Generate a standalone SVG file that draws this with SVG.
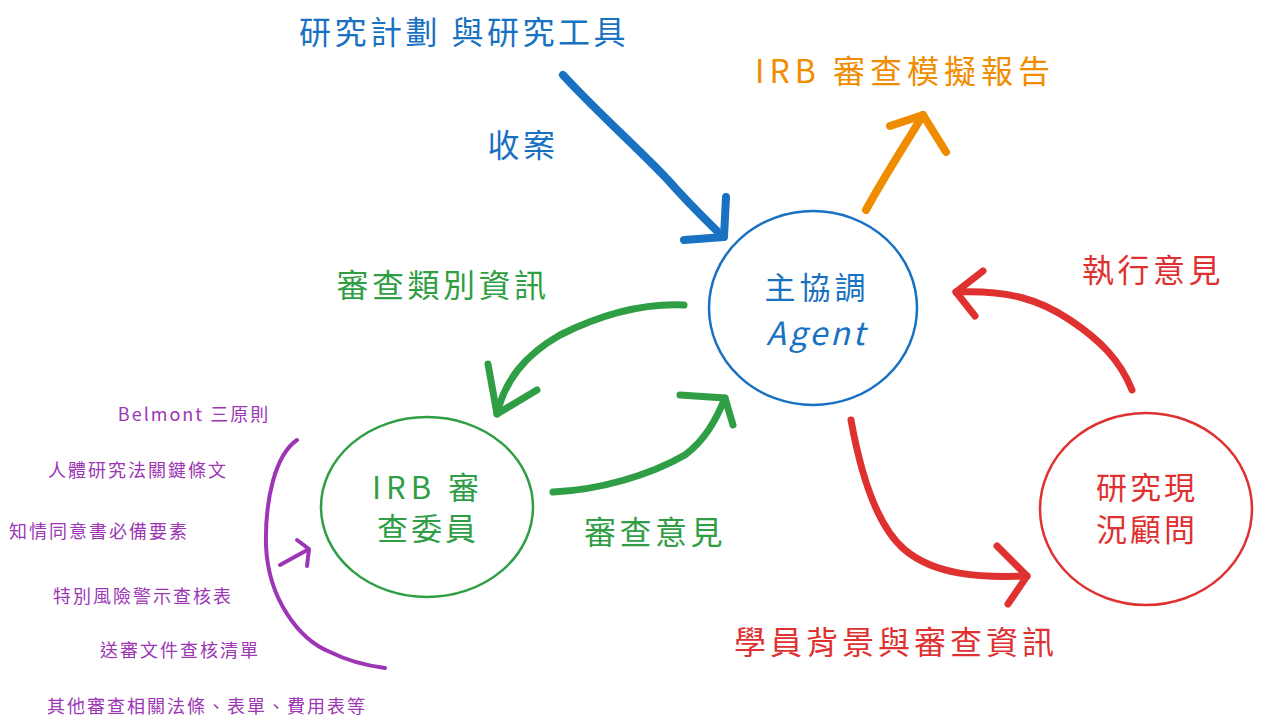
<svg xmlns="http://www.w3.org/2000/svg" width="1263" height="728" viewBox="0 0 1263 728">
<style>
text{font-family:"Noto Sans CJK TC","Noto Sans",sans-serif;text-anchor:middle;dominant-baseline:central}
.node{fill:none;stroke-width:2.5}
.conn{fill:none;stroke-linecap:round;stroke-linejoin:round}
.blue{stroke:#1971c2}.orange{stroke:#f08c00}.green{stroke:#2f9e44}.red{stroke:#e03131}.purple{stroke:#9c36b5}
.tb{fill:#1971c2}.to{fill:#f08c00}.tg{fill:#2f9e44}.tr{fill:#e03131}.tp{fill:#9c36b5}
.big{font-size:31px;letter-spacing:2px}.lbl{font-size:32px;letter-spacing:3.5px}.small{font-size:18px;letter-spacing:2px}
</style>
<rect width="1263" height="728" fill="#ffffff"/>
<g id="connectors">
  <path class="conn blue" stroke-width="8" d="M563,75 C600,115 640,150 668,180 C690,205 708,222 722,236"/>
  <path class="conn blue" stroke-width="8" d="M726,197 L724,237 L684,240"/>
  <path class="conn orange" stroke-width="8" d="M866,210 C885,175 905,145 923,115"/>
  <path class="conn orange" stroke-width="8" d="M890,126 L923,115 L946,152"/>
  <path class="conn green" stroke-width="7" d="M684,305 C640,303 600,315 560,335 C525,355 505,380 497,414"/>
  <path class="conn green" stroke-width="7" d="M488,364 L497,414 L537,390"/>
  <path class="conn green" stroke-width="7" d="M553,492 C600,490 650,475 685,455 C705,440 716,420 725,398"/>
  <path class="conn green" stroke-width="7" d="M680,395 L725,398 L733,425"/>
  <path class="conn red" stroke-width="7" d="M851,420 C860,470 875,525 905,550 C935,575 980,578 1027,576"/>
  <path class="conn red" stroke-width="7" d="M997,546 L1027,576 L1008,604"/>
  <path class="conn red" stroke-width="7" d="M1132,390 C1120,360 1100,340 1070,320 C1040,300 1010,290 956,292"/>
  <path class="conn red" stroke-width="7" d="M983,271 L956,292 L975,316"/>
  <path class="conn purple" stroke-width="4" d="M297,440 C275,455 265,500 266,545 C268,600 300,640 330,652 C350,662 370,666 385,668"/>
  <path class="conn purple" stroke-width="4" d="M280,565 L309,549 M297,540 L309,549 L307,566"/>
</g>
<g id="node-agent">
  <ellipse class="node blue" cx="813" cy="308" rx="104" ry="97"/>
  <text class="tb big" x="817" y="285" style="letter-spacing:4px">主協調</text>
  <text class="tb big" x="817" y="331" font-style="italic" style="font-size:32px;letter-spacing:3px">Agent</text>
</g>
<g id="node-irb">
  <ellipse class="node green" cx="427" cy="507" rx="106" ry="90"/>
  <text class="tg big" x="428" y="485" style="letter-spacing:5px">IRB 審</text>
  <text class="tg big" x="428" y="526" style="letter-spacing:3px">查委員</text>
</g>
<g id="node-advisor">
  <ellipse class="node red" cx="1146" cy="509" rx="106" ry="96"/>
  <text class="tr big" x="1147" y="485" style="letter-spacing:3px">研究現</text>
  <text class="tr big" x="1147" y="527" style="letter-spacing:3px">況顧問</text>
</g>
<g id="labels">
  <text class="tb lbl" x="464" y="30">研究計劃 與研究工具</text>
  <text class="to lbl" x="905" y="69" style="letter-spacing:5px">IRB 審查模擬報告</text>
  <text class="tb lbl" x="523" y="143">收案</text>
  <text class="tg lbl" x="443" y="283">審查類別資訊</text>
  <text class="tr lbl" x="1153" y="268">執行意見</text>
  <text class="tg lbl" x="655" y="530">審查意見</text>
  <text class="tr lbl" x="896" y="640" style="letter-spacing:4px">學員背景與審查資訊</text>
</g>
<g id="list">
  <text class="tp small" x="194" y="413">Belmont 三原則</text>
  <text class="tp small" x="138" y="469">人體研究法關鍵條文</text>
  <text class="tp small" x="99" y="530">知情同意書必備要素</text>
  <text class="tp small" x="143" y="595">特別風險警示查核表</text>
  <text class="tp small" x="180" y="649">送審文件查核清單</text>
  <text class="tp small" x="207" y="705">其他審查相關法條、表單、費用表等</text>
</g>
</svg>
